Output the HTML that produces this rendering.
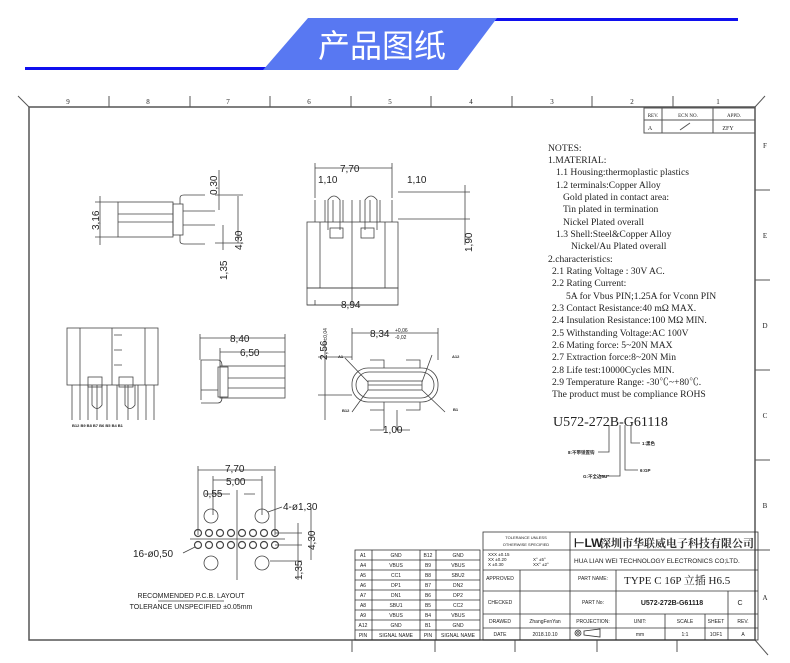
<!DOCTYPE html>
<html><head><meta charset="utf-8"><style>
body{margin:0;background:#fff;width:790px;height:663px;overflow:hidden}
svg{display:block}
text{font-family:"Liberation Sans","Noto Sans CJK SC",sans-serif;fill:#222}
.s text, text.s{font-family:"Liberation Serif","Noto Serif CJK SC",serif}
</style></head><body>
<svg width="790" height="663" viewBox="0 0 790 663" xmlns="http://www.w3.org/2000/svg">
<rect x="25" y="67" width="242" height="3" fill="#1010ee"/>
<rect x="495" y="18" width="243" height="3" fill="#1010ee"/>
<polygon points="308,18 497,18 458,70 263,70" fill="#5878f2"/>
<text x="382" y="57" text-anchor="middle" font-size="32" style="fill:#fff;font-family:'Noto Sans CJK SC',sans-serif">产品图纸</text>

<g stroke="#555" fill="none" stroke-width="1">
<rect x="29" y="107" width="726" height="533" stroke-width="1.5"/>
<line x1="18" y1="96" x2="29" y2="107"/><line x1="765" y1="96" x2="755" y2="107"/>
<line x1="755" y1="640" x2="768" y2="655"/>
<path d="M109 96V107M190 96V107M270 96V107M351 96V107M431 96V107M512 96V107M592 96V107M673 96V107"/>
<path d="M755 190H770M755 280H770M755 370H770M755 460H770M755 550H770"/>
<path d="M352 640V652M435 640V652M515 640V652M597 640V652M677 640V652"/>
<rect x="644" y="108" width="111" height="25"/><line x1="644" y1="120" x2="755" y2="120"/>
<line x1="662" y1="108" x2="662" y2="133"/><line x1="713" y1="108" x2="713" y2="133"/>
<line x1="680" y1="130" x2="690" y2="123"/>
</g>
<g font-size="7" text-anchor="middle" class="s">
<text x="68" y="104">9</text><text x="148" y="104">8</text><text x="228" y="104">7</text><text x="309" y="104">6</text><text x="390" y="104">5</text><text x="471" y="104">4</text><text x="552" y="104">3</text><text x="632" y="104">2</text><text x="718" y="104">1</text>
<text x="765" y="148">F</text><text x="765" y="238">E</text><text x="765" y="328">D</text><text x="765" y="418">C</text><text x="765" y="508">B</text><text x="765" y="600">A</text>
<text x="653" y="117" font-size="5">REV.</text><text x="688" y="117" font-size="5">ECN NO.</text><text x="734" y="117" font-size="5">APPD.</text>
<text x="650" y="130" font-size="6">A</text><text x="728" y="130" font-size="6">ZFY</text>
</g>

<g stroke="#444" fill="none" stroke-width="0.8">
<rect x="118" y="202" width="55" height="35"/><path d="M118 214H173M118 222H173"/>
<rect x="173" y="204" width="10" height="31"/>
<path d="M180 204V198Q180 195 184 195H205M180 235V241Q180 244 184 244H205"/>
<path d="M183 211H215M183 225H215"/>
<path d="M100 196V245M95 202H118M95 237H118M219 170V210M238 196V243M223 225V250M215 195H243M215 243H243"/>
<rect x="307" y="222" width="91" height="66"/><rect x="307" y="288" width="91" height="17"/>
<path d="M320 222V288M385 222V288M352 200V305"/>
<path d="M315 200V222M325 200V222M333 200V222M343 200V222M360 200V222M370 200V222M380 200V222M392 200V222"/>
<path d="M328 230V200Q334 192 340 200V230M365 230V200Q371 192 377 200V230"/>
<rect x="330" y="228" width="13" height="10"/><rect x="361" y="228" width="13" height="10"/>
<path d="M315 168H392M315 163V198M392 163V198M315 305V300M398 305H307M398 192H470M398 219H470M465 185V245"/>
<rect x="67" y="328" width="91" height="57"/><path d="M80 328V385M145 328V385M112 328V385"/>
<path d="M72 385V420M80 385V420M88 385V420M97 385V420M107 385V420M117 385V420M128 385V420M138 385V420M146 385V420M154 385V420"/>
<path d="M92 385V405Q97 412 102 405V385M125 385V405Q130 412 135 405V385"/>
<rect x="88" y="377" width="14" height="10"/><rect x="119" y="377" width="14" height="10"/>
<path d="M114 335H122M114 350H122M114 365H122"/>
<rect x="220" y="366" width="65" height="32"/><rect x="218" y="367" width="10" height="30"/>
<path d="M228 378H285M228 388H285"/>
<path d="M201 360H218Q222 360 222 366M201 403H218Q222 403 222 397M201 390H218M201 360V400"/>
<path d="M200 338H285M220 352H285M200 334V360M285 334V366M220 348V366"/>
<rect x="352" y="368" width="86" height="34" rx="16"/><rect x="356" y="372" width="78" height="26" rx="13"/>
<rect x="368" y="381" width="54" height="9"/><path d="M368 385H422"/>
<path d="M370 360H384V368M406 360H420V368M370 410H384V402M406 410H420V402M352 328V360M438 328V360M352 333H438M318 357H352M318 395H352M325 340V420M384 410V430M397 410V430M370 430H384M397 430H410"/>
<path d="M345 358L368 382M432 355L422 382M352 412L368 390M445 412L422 390"/>
<path d="M198 470H275M213 480H262M198 466V535M275 466V535M213 476V515M262 476V515M237 490V580M190 539H285M205 494H230M244 494H255"/>
<circle cx="211" cy="516" r="7"/><circle cx="262" cy="516" r="7"/><circle cx="211" cy="563" r="7"/><circle cx="262" cy="563" r="7"/>
<g stroke-width="1.2">
<circle cx="198" cy="533" r="3.5"/><circle cx="209" cy="533" r="3.5"/><circle cx="220" cy="533" r="3.5"/><circle cx="231" cy="533" r="3.5"/><circle cx="242" cy="533" r="3.5"/><circle cx="253" cy="533" r="3.5"/><circle cx="264" cy="533" r="3.5"/><circle cx="275" cy="533" r="3.5"/>
<circle cx="198" cy="545" r="3.5"/><circle cx="209" cy="545" r="3.5"/><circle cx="220" cy="545" r="3.5"/><circle cx="231" cy="545" r="3.5"/><circle cx="242" cy="545" r="3.5"/><circle cx="253" cy="545" r="3.5"/><circle cx="264" cy="545" r="3.5"/><circle cx="275" cy="545" r="3.5"/>
</g>
<path d="M268 512L282 507M183 553L195 547M275 533H302M275 545H302M270 561H302M298 523V580M311 507V560M158 601H224"/>
<path d="M609 425V452H598M620 425V476H600M625 425V470H638M631 425V443H640"/>
</g>
<g font-size="10" fill="#333">
<text transform="translate(99,230) rotate(-90)">3,16</text>
<text transform="translate(217,195) rotate(-90)">0,30</text>
<text transform="translate(242,250) rotate(-90)">4,30</text>
<text transform="translate(227,280) rotate(-90)">1,35</text>
<text x="340" y="172">7,70</text><text x="318" y="183">1,10</text><text x="407" y="183">1,10</text>
<text x="341" y="308">8,94</text>
<text transform="translate(472,252) rotate(-90)">1,90</text>
<text x="230" y="342">8,40</text><text x="240" y="356">6,50</text>
<text x="370" y="337">8,34</text><text x="395" y="332" font-size="5">+0,06</text><text x="395" y="339" font-size="5">-0,02</text>
<text transform="translate(327,360) rotate(-90)">2,56<tspan font-size="5">±0,04</tspan></text>
<text x="383" y="433">1,00</text>
<text x="225" y="472">7,70</text><text x="226" y="485">5,00</text><text x="203" y="497">0,55</text>
<text x="283" y="510">4-ø1,30</text><text x="133" y="557">16-ø0,50</text>
<text transform="translate(315,550) rotate(-90)">4,30</text><text transform="translate(302,580) rotate(-90)">1,35</text>
</g>
<g font-size="7" fill="#333" text-anchor="middle"><text x="191" y="598">RECOMMENDED  P.C.B. LAYOUT</text><text x="191" y="609">TOLERANCE UNSPECIFIED ±0.05mm</text></g>
<g font-size="4" font-weight="bold"><text x="72" y="427">B12 B9 B8 B7 B6 B5 B4 B1</text><text x="338" y="358">A1</text><text x="452" y="358">A12</text><text x="342" y="412">B12</text><text x="453" y="411">B1</text></g>

<g class="s" font-size="9.6" fill="#222">
<text x="548" y="151">NOTES:</text>
<text x="548" y="163">1.MATERIAL:</text>
<text x="556" y="175">1.1 Housing:thermoplastic plastics</text>
<text x="556" y="188">1.2 terminals:Copper Alloy</text>
<text x="563" y="200">Gold plated in contact area:</text>
<text x="563" y="212">Tin plated in termination</text>
<text x="563" y="225">Nickel Plated overall</text>
<text x="556" y="237">1.3 Shell:Steel&amp;Copper Alloy</text>
<text x="571" y="249">Nickel/Au Plated overall</text>
<text x="548" y="262">2.characteristics:</text>
<text x="552" y="274">2.1 Rating Voltage : 30V AC.</text>
<text x="552" y="286">2.2 Rating Current:</text>
<text x="566" y="299">5A for Vbus PIN;1.25A for Vconn PIN</text>
<text x="552" y="311">2.3 Contact Resistance:40 mΩ MAX.</text>
<text x="552" y="323">2.4 Insulation Resistance:100 MΩ MIN.</text>
<text x="552" y="336">2.5 Withstanding Voltage:AC 100V</text>
<text x="552" y="348">2.6 Mating force: 5~20N MAX</text>
<text x="552" y="360">2.7 Extraction force:8~20N Min</text>
<text x="552" y="373">2.8 Life test:10000Cycles MIN.</text>
<text x="552" y="385">2.9 Temperature Range: -30℃~+80℃.</text>
<text x="552" y="397">The product must be compliance ROHS</text>
<text x="553" y="426" font-size="14">U572-272B-G61118</text>
</g>
<g font-size="4.5" font-weight="bold"><text x="642" y="445">1:黑色</text><text x="568" y="454">8:不带锁置钩</text><text x="640" y="472">6:GP</text><text x="583" y="478">G:不全边5U"</text></g>

<g stroke="#333" fill="none" stroke-width="0.8">
<rect x="355" y="550" width="125" height="90"/>
<path d="M355 560H480M355 570H480M355 580H480M355 590H480M355 600H480M355 610H480M355 620H480M355 630H480M372 550V640M420 550V640M436 550V640"/>
<rect x="483" y="532" width="275" height="108"/>
<path d="M570 532V640M483 550H570M570 550H758M483 570H758M483 591H758M483 614H758M483 628H758M520 570V640M616 570V640M665 614V640M705 614V640M728 591V640"/>
</g>
<g font-size="5" fill="#333" text-anchor="middle">
<text x="363" y="557">A1</text><text x="396" y="557">GND</text><text x="428" y="557">B12</text><text x="458" y="557">GND</text>
<text x="363" y="567">A4</text><text x="396" y="567">VBUS</text><text x="428" y="567">B9</text><text x="458" y="567">VBUS</text>
<text x="363" y="577">A5</text><text x="396" y="577">CC1</text><text x="428" y="577">B8</text><text x="458" y="577">SBU2</text>
<text x="363" y="587">A6</text><text x="396" y="587">DP1</text><text x="428" y="587">B7</text><text x="458" y="587">DN2</text>
<text x="363" y="597">A7</text><text x="396" y="597">DN1</text><text x="428" y="597">B6</text><text x="458" y="597">DP2</text>
<text x="363" y="607">A8</text><text x="396" y="607">SBU1</text><text x="428" y="607">B5</text><text x="458" y="607">CC2</text>
<text x="363" y="617">A9</text><text x="396" y="617">VBUS</text><text x="428" y="617">B4</text><text x="458" y="617">VBUS</text>
<text x="363" y="627">A12</text><text x="396" y="627">GND</text><text x="428" y="627">B1</text><text x="458" y="627">GND</text>
<text x="363" y="637">PIN</text><text x="396" y="637">SIGNAL NAME</text><text x="428" y="637">PIN</text><text x="458" y="637">SIGNAL NAME</text>
<text x="526" y="539" font-size="4">TOLERANCE UNLESS</text><text x="526" y="546" font-size="4">OTHERWISE SPECIFIED</text>
<text x="500" y="580">APPROVED</text><text x="500" y="604">CHECKED</text><text x="500" y="623">DRAWED</text><text x="500" y="636">DATE</text>
<text x="545" y="623">ZhangFenYan</text><text x="545" y="636">2018.10.10</text>
<text x="593" y="580">PART NAME:</text><text x="593" y="604">PART No:</text><text x="593" y="623">PROJECTION:</text>
<text x="640" y="623">UNIT:</text><text x="685" y="623">SCALE</text><text x="716" y="623">SHEET</text><text x="743" y="623">REV.</text>
<text x="640" y="636">mm</text><text x="685" y="636">1:1</text><text x="716" y="636">1OF1</text><text x="743" y="636">A</text>
<text x="740" y="605" font-size="7">C</text>
<text x="672" y="605" font-size="7" font-weight="bold">U572-272B-G61118</text>
</g>
<g font-size="4.5" fill="#333"><text x="488" y="556">XXX ±0.15</text><text x="488" y="561">XX ±0.20</text><text x="488" y="566">X ±0.30</text><text x="533" y="561">X° ±5°</text><text x="533" y="566">XX° ±2°</text></g>
<text x="574" y="547" font-size="12" font-weight="bold" fill="#333">⊢LW</text>
<text x="600" y="547" font-size="11" font-weight="bold" textLength="154" lengthAdjust="spacingAndGlyphs" style="fill:#333;font-family:'Noto Serif CJK SC',serif">深圳市华联威电子科技有限公司</text>
<text x="574" y="563" font-size="6.5" fill="#333">HUA LIAN WEI TECHNOLOGY ELECTRONICS CO;LTD.</text>
<text x="624" y="584" font-size="11" class="s" fill="#333">TYPE C 16P 立插 H6.5</text>
<g stroke="#333" fill="none" stroke-width="0.8"><circle cx="578" cy="633" r="3"/><circle cx="578" cy="633" r="1.3"/><path d="M584 631L600 629V637L584 635Z"/></g>
</svg>
</body></html>
